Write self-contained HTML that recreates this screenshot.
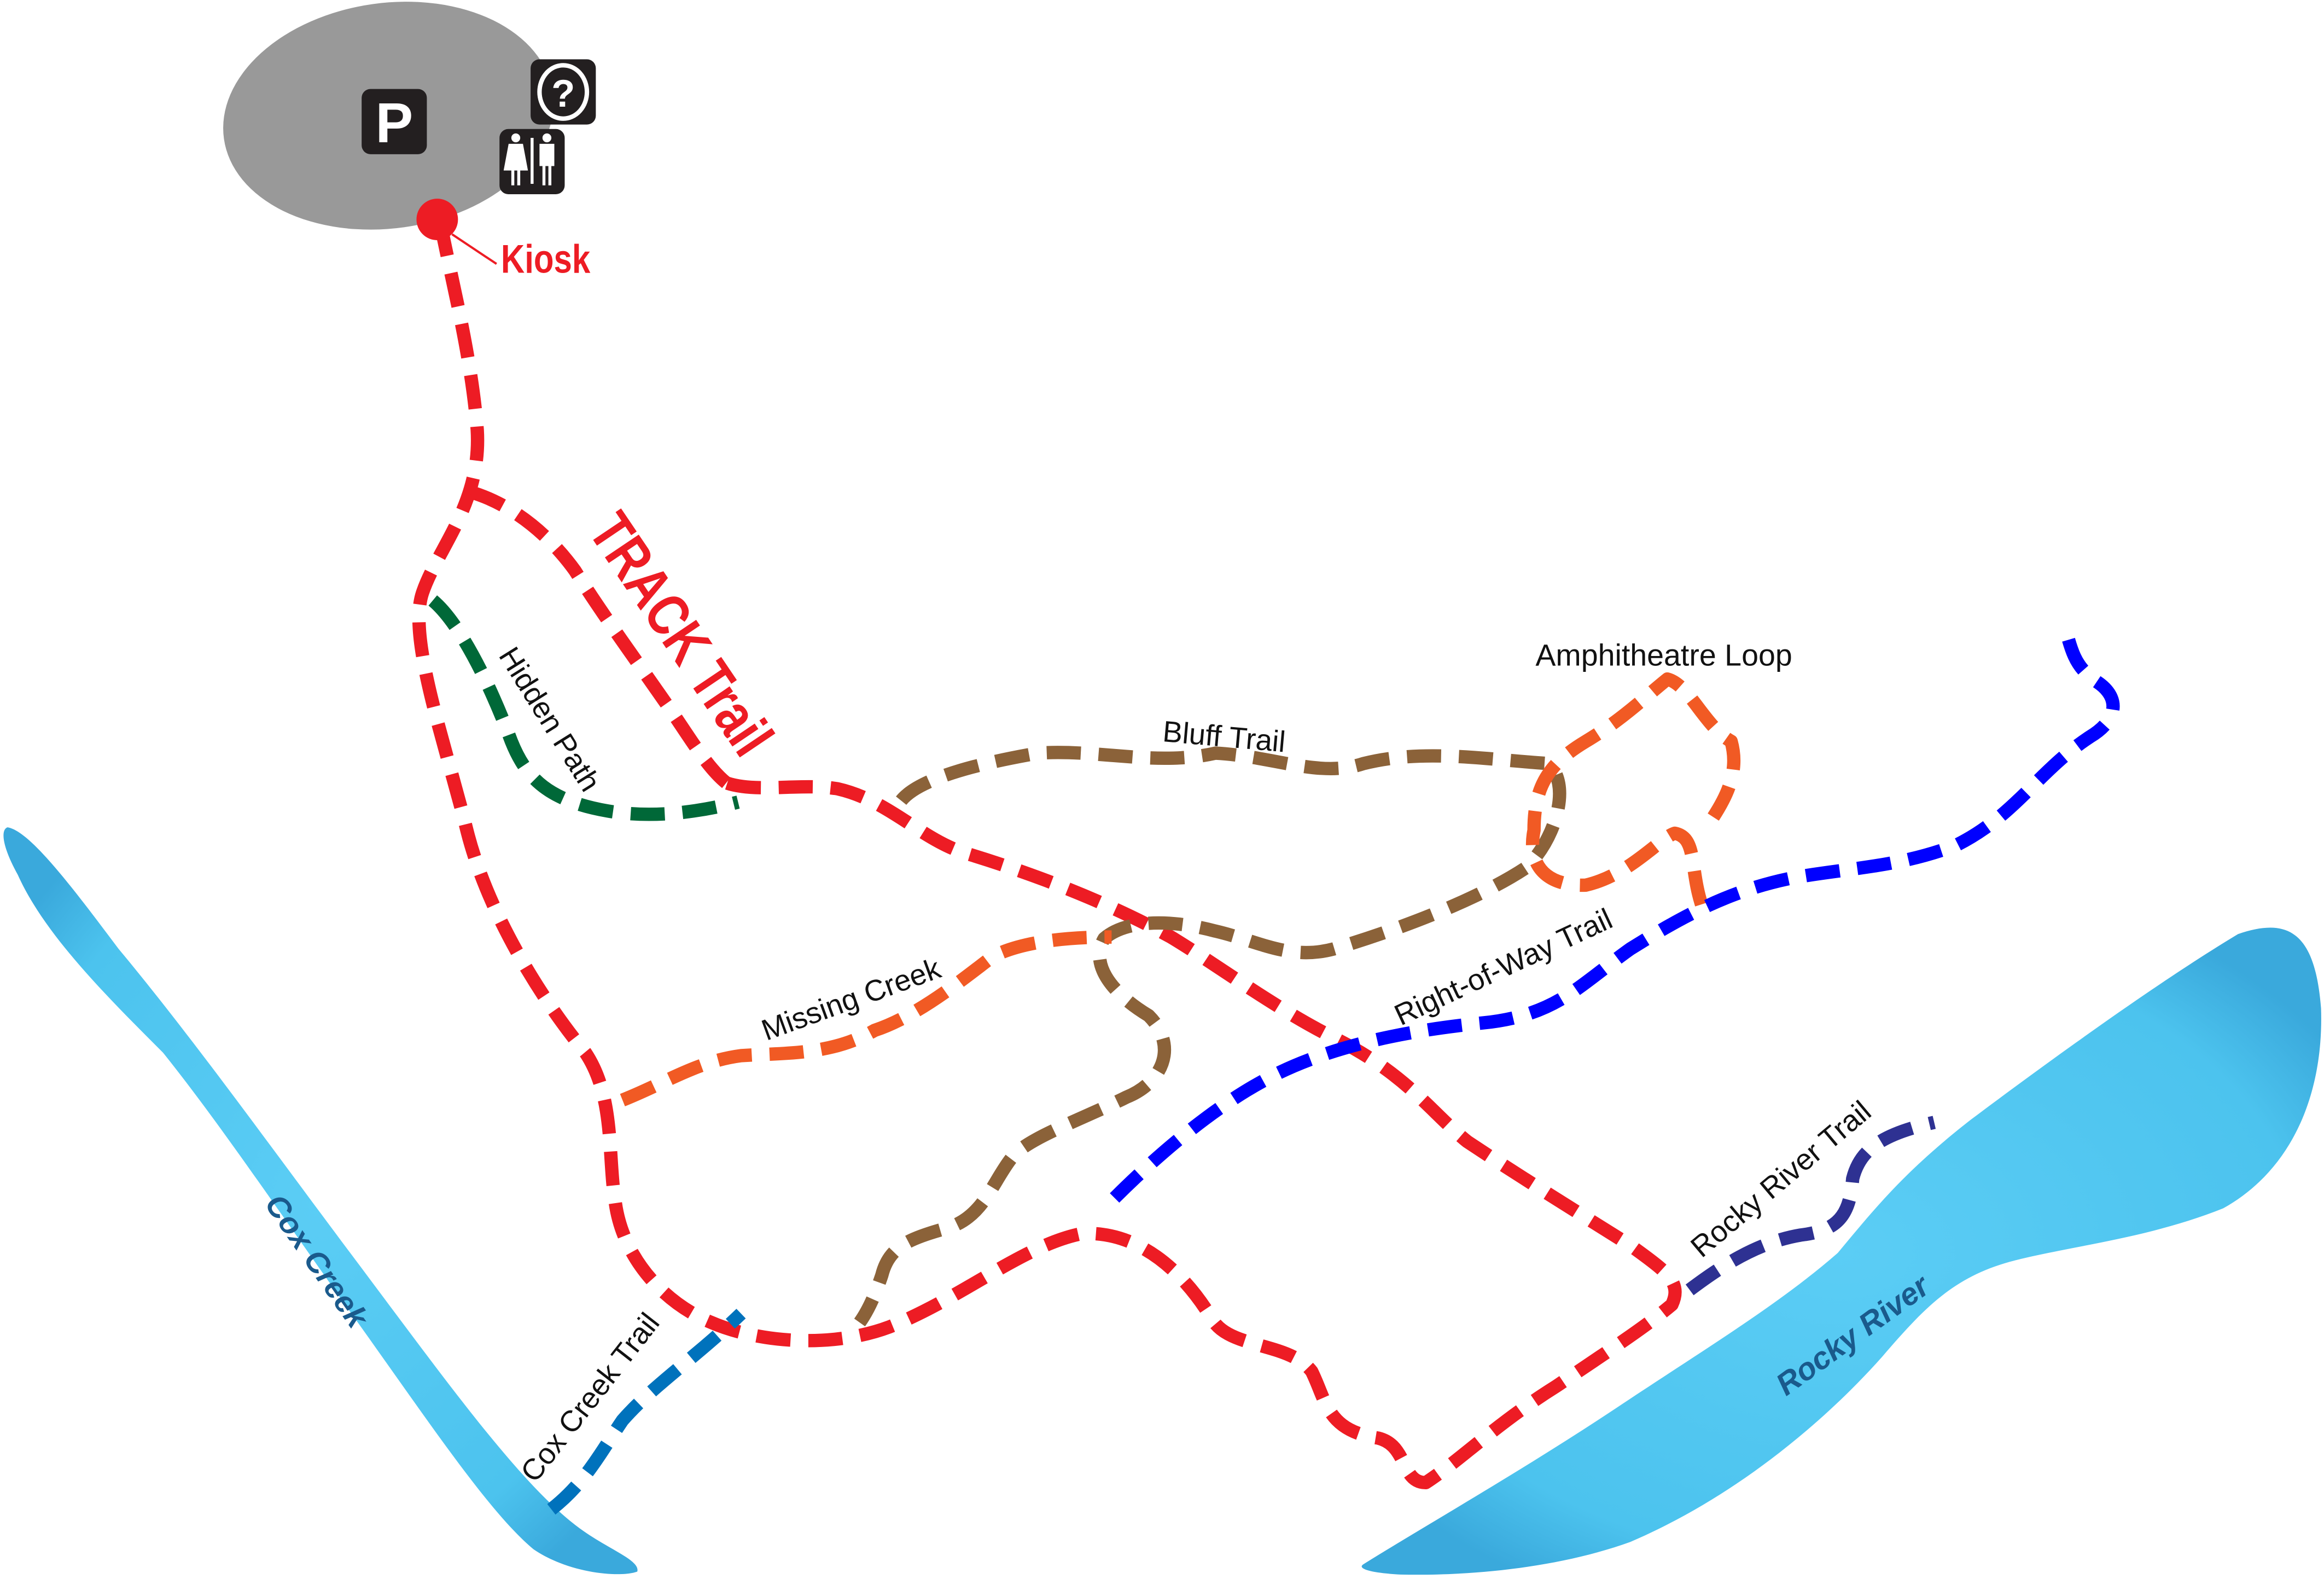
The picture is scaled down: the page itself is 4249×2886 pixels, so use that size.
<!DOCTYPE html>
<html><head><meta charset="utf-8"><style>html,body{margin:0;padding:0;background:#fff}svg{display:block}</style></head>
<body>
<svg width="4249" height="2886" viewBox="0 0 1568 1065" xmlns="http://www.w3.org/2000/svg" font-family="Liberation Sans, sans-serif">
<defs>
<radialGradient id="w" cx="50%" cy="50%" r="60%"><stop offset="0" stop-color="#5bcdf5"/><stop offset="0.8" stop-color="#4cc3ee"/><stop offset="1" stop-color="#3aa9dc"/></radialGradient>
</defs>
<rect width="1568" height="1065" fill="#fff"/>
<path d="M5,558 C20,560 50,600 80,640 C130,700 180,770 240,850 C300,930 350,1000 390,1030 C410,1045 432,1052 430,1060 C420,1064 385,1062 360,1045 C330,1020 290,960 240,890 C190,820 150,760 110,710 C70,670 30,630 12,590 C2,572 0,560 5,558 Z" fill="url(#w)"/>
<path d="M920,1055 C960,1030 1030,990 1090,950 C1150,910 1200,880 1240,845 C1265,815 1285,790 1330,755 C1390,710 1460,660 1510,630 C1545,618 1562,630 1566,680 C1568,740 1545,790 1500,815 C1450,835 1400,840 1360,850 C1320,860 1300,880 1270,915 C1230,960 1170,1010 1100,1040 C1050,1058 990,1063 945,1062 C925,1061 915,1058 920,1055 Z" fill="url(#w)"/>
<text transform="translate(178,812) rotate(55)" font-size="21" font-weight="bold" font-style="italic" fill="#1a5a8c">Cox Creek</text>
<text transform="translate(1205,942) rotate(-36)" font-size="21" font-weight="bold" font-style="italic" fill="#1a5a8c">Rocky River</text>
<ellipse cx="262" cy="78" rx="112" ry="76" transform="rotate(-8 262 78)" fill="#999"/>
<rect x="244" y="60" width="44" height="44" rx="6" fill="#231f20"/>
<text x="266" y="96" font-size="38" font-weight="bold" fill="#fff" text-anchor="middle">P</text>
<rect x="358" y="40" width="44" height="44" rx="6" fill="#231f20"/>
<ellipse cx="380" cy="62" rx="16" ry="18" fill="none" stroke="#fff" stroke-width="3"/>
<text x="380" y="72" font-size="26" font-weight="bold" fill="#fff" text-anchor="middle">?</text>
<rect x="337" y="87" width="44" height="44" rx="6" fill="#231f20"/>
<line x1="359" y1="93" x2="359" y2="124" stroke="#fff" stroke-width="2"/>
<circle cx="348" cy="93" r="3" fill="#fff"/><path d="M344,98 L352,98 L355,114 L341,114 Z M346,114 L346,125 M350,114 L350,125" fill="#fff" stroke="#fff" stroke-width="2"/>
<circle cx="369" cy="93" r="3" fill="#fff"/><path d="M365,98 h8 v13 h-8 z M367,110 v15 M371,110 v15" fill="#fff" stroke="#fff" stroke-width="2"/>
<g fill="none" stroke-width="9" stroke-dasharray="23 12" stroke-linejoin="round">
<path stroke="#ed1c24" d="M297,150 C305,190 318,240 322,290 C325,340 295,370 285,400 C275,430 300,500 315,560 C330,620 370,680 395,710 C415,740 410,780 415,810 C420,850 450,880 480,892 C510,905 560,910 600,895 C650,875 690,840 730,832 C770,830 800,860 818,890 C830,910 870,905 885,925 C895,945 895,965 930,970 C950,975 945,1000 962,1000 C985,985 1010,960 1050,935 C1090,908 1110,895 1128,880 C1135,865 1125,858 1100,840 C1060,815 1020,790 990,770 C965,750 950,725 900,700 C860,680 820,650 790,632 C750,610 700,590 650,575 C620,565 600,540 565,532 C540,528 510,535 490,528"/>
<path stroke="#ed1c24" d="M318,332 C345,340 370,360 388,385 C410,420 440,460 460,490 C470,505 480,520 490,528"/>
<path stroke="#006838" d="M292,405 C310,420 330,460 345,500 C355,525 370,540 410,547 C440,552 470,548 498,541"/>
<path stroke="#8b6239" d="M608,540 C620,525 660,515 700,508 C740,505 780,517 820,508 C860,510 890,525 920,515 C960,505 1000,512 1045,515 C1060,530 1050,565 1030,585 C1000,605 950,625 900,640 C870,648 850,635 820,628 C790,620 760,620 745,633 C735,650 750,670 775,685 C795,705 785,730 760,740 C730,755 700,765 685,778 C670,795 665,820 640,828 C615,835 600,840 595,860 C590,875 585,885 580,892"/>
<path stroke="#f15a24" d="M1148,610 C1140,585 1145,565 1130,562 C1120,565 1100,590 1070,597 C1045,598 1030,585 1035,560 C1035,530 1045,515 1070,500 C1095,485 1110,470 1125,458 C1140,462 1150,490 1168,500 C1175,525 1160,545 1150,560"/>
<path stroke="#f15a24" d="M420,742 C450,730 470,716 500,712 C530,710 560,712 590,695 C620,685 650,660 670,645 C690,635 720,632 750,632"/>
<path stroke="#0000ff" d="M752,808 C780,780 820,745 860,725 C900,705 950,695 1000,690 C1050,685 1065,665 1100,640 C1140,615 1170,600 1210,592 C1250,585 1280,585 1320,570 C1360,550 1375,520 1410,497 C1430,485 1430,470 1415,460 C1400,450 1398,440 1393,422"/>
<path stroke="#2e3192" d="M1140,870 C1160,855 1185,838 1215,833 C1240,830 1248,820 1250,795 C1255,775 1270,765 1305,757"/>
<path stroke="#0072bc" d="M372,1018 C395,1000 405,980 420,958 C440,935 470,915 500,886"/>
</g>
<line x1="305" y1="158" x2="335" y2="178" stroke="#ed1c24" stroke-width="1.5"/>
<circle cx="295" cy="148" r="14" fill="#ed1c24"/>
<text transform="translate(338,184) scale(0.82 1)" font-size="27" font-weight="bold" fill="#ed1c24">Kiosk</text>
<text transform="translate(396,358) rotate(56) scale(0.8 1)" font-size="40" font-weight="bold" fill="#ed1c24">TRACK Trail</text>
<text transform="translate(336,442) rotate(58)" font-size="20" fill="#111">Hidden Path</text>
<text transform="translate(784,500) rotate(5)" font-size="20" fill="#111">Bluff Trail</text>
<text x="1036" y="449" font-size="20.5" fill="#111">Amphitheatre Loop</text>
<text transform="translate(517,702) rotate(-20)" font-size="20" fill="#111">Missing Creek</text>
<text transform="translate(945,692) rotate(-25)" font-size="20" fill="#111">Right-of-Way Trail</text>
<text transform="translate(1148,849) rotate(-40)" font-size="20" fill="#111">Rocky River Trail</text>
<text transform="translate(361,1001) rotate(-52)" font-size="20" fill="#111">Cox Creek Trail</text>
</svg>
</body></html>
